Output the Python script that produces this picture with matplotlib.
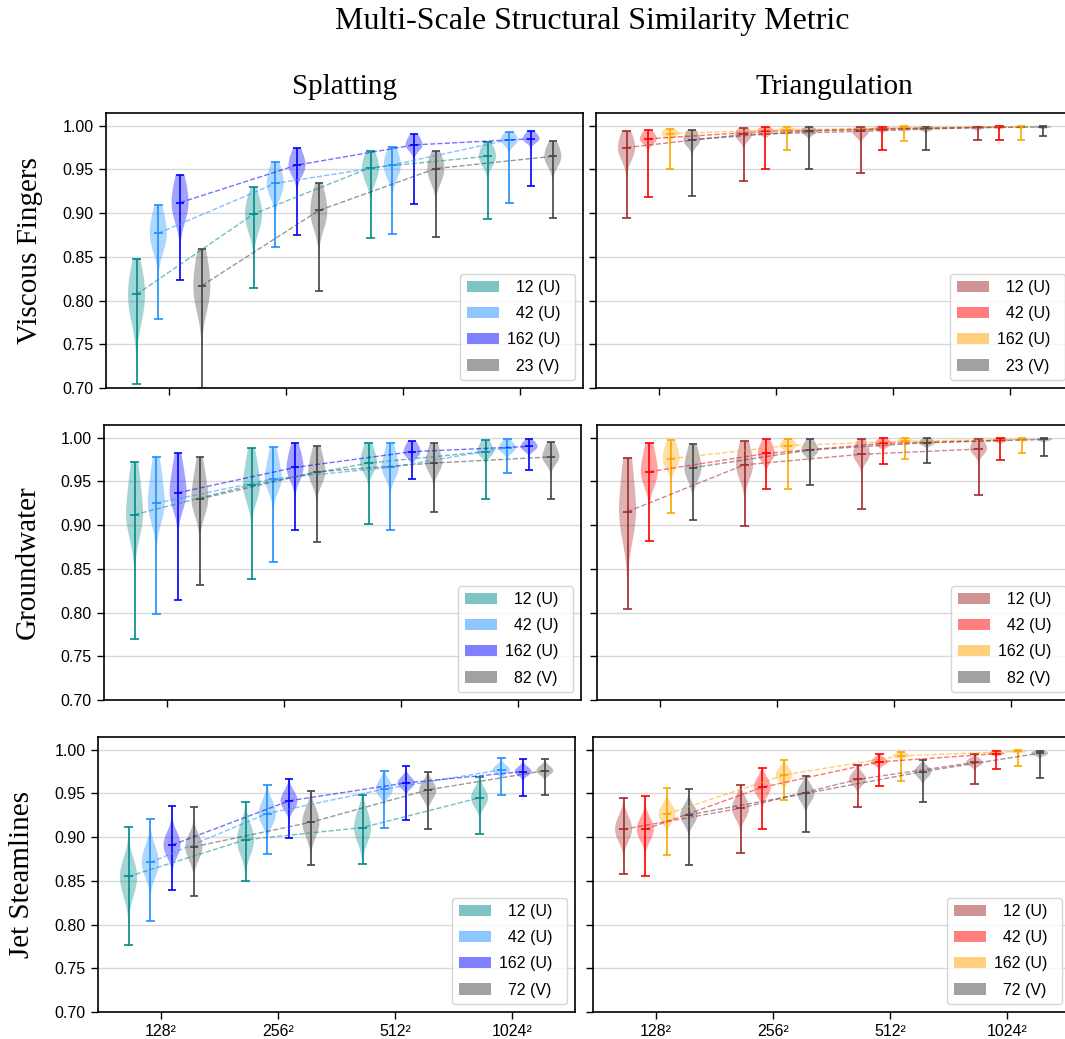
import numpy as np
import matplotlib
matplotlib.use("Agg")
import matplotlib.pyplot as plt
from matplotlib.patches import Patch
from matplotlib import cbook

plt.rcParams["font.family"] = ["Liberation Sans", "DejaVu Sans"]
SERIF = ["Liberation Serif", "DejaVu Serif"]

# ---------------------------------------------------------------- data
RESOLUTIONS = ["128\u00b2", "256\u00b2", "512\u00b2", "1024\u00b2"]
DATASETS = ["Viscous Fingers", "Groundwater", "Jet Steamlines"]
METHODS = ["Splatting", "Triangulation"]
UNIFORM_LABELS = ["\u200712 (U)", "\u200742 (U)", "162 (U)"]
VIEW_LABELS = ["\u200723 (V)", "\u200782 (V)", "\u200772 (V)"]

# each array: rows = series (12 U, 42 U, 162 U, views), cols = resolution
# Viscous Fingers / Splatting
VF_SPLAT_MIN = [[0.705, 0.814, 0.871, 0.893], [0.779, 0.861, 0.876, 0.912],
                [0.824, 0.875, 0.910, 0.931], [0.700, 0.811, 0.873, 0.894]]
VF_SPLAT_Q1 = [[0.785, 0.885, 0.940, 0.958], [0.865, 0.925, 0.945, 0.980],
               [0.900, 0.948, 0.975, 0.983], [0.800, 0.890, 0.940, 0.958]]
VF_SPLAT_MED = [[0.807, 0.899, 0.952, 0.965], [0.877, 0.934, 0.955, 0.984],
                [0.912, 0.955, 0.978, 0.985], [0.817, 0.903, 0.951, 0.965]]
VF_SPLAT_Q3 = [[0.830, 0.915, 0.963, 0.975], [0.898, 0.950, 0.968, 0.990],
               [0.935, 0.968, 0.987, 0.991], [0.845, 0.922, 0.963, 0.976]]
VF_SPLAT_MAX = [[0.848, 0.930, 0.971, 0.981], [0.909, 0.959, 0.976, 0.993],
                [0.944, 0.975, 0.990, 0.994], [0.859, 0.934, 0.971, 0.982]]

# Viscous Fingers / Triangulation
VF_TRI_MIN = [[0.894, 0.937, 0.946, 0.984], [0.919, 0.950, 0.9726, 0.984],
              [0.950, 0.972, 0.983, 0.984], [0.920, 0.950, 0.972, 0.988]]
VF_TRI_Q1 = [[0.966, 0.985, 0.989, 0.9965], [0.982, 0.991, 0.995, 0.998],
             [0.988, 0.993, 0.996, 0.998], [0.980, 0.991, 0.995, 0.998]]
VF_TRI_MED = [[0.975, 0.990, 0.9935, 0.998], [0.985, 0.9935, 0.9966, 0.9985],
              [0.991, 0.9954, 0.9973, 0.9985], [0.984, 0.994, 0.997, 0.9985]]
VF_TRI_Q3 = [[0.988, 0.995, 0.997, 0.999], [0.992, 0.997, 0.9985, 0.9992],
             [0.995, 0.9975, 0.999, 0.9992], [0.992, 0.997, 0.9985, 0.9992]]
VF_TRI_MAX = [[0.994, 0.997, 0.998, 0.999], [0.9954, 0.998, 0.999, 0.9993],
              [0.9966, 0.998, 0.9992, 0.9993], [0.995, 0.998, 0.999, 0.9993]]

# Groundwater / Splatting
GW_SPLAT_MIN = [[0.770, 0.838, 0.901, 0.930], [0.798, 0.858, 0.894, 0.960],
                [0.814, 0.894, 0.953, 0.963], [0.832, 0.881, 0.915, 0.930]]
GW_SPLAT_Q1 = [[0.905, 0.940, 0.968, 0.983], [0.920, 0.950, 0.962, 0.985],
               [0.932, 0.960, 0.981, 0.987], [0.926, 0.956, 0.968, 0.975]]
GW_SPLAT_MED = [[0.912, 0.946, 0.971, 0.984], [0.925, 0.953, 0.966, 0.9885],
                [0.937, 0.966, 0.984, 0.990], [0.930, 0.961, 0.971, 0.978]]
GW_SPLAT_Q3 = [[0.955, 0.975, 0.988, 0.994], [0.962, 0.978, 0.985, 0.994],
               [0.968, 0.985, 0.993, 0.995], [0.962, 0.982, 0.988, 0.990]]
GW_SPLAT_MAX = [[0.972, 0.988, 0.994, 0.997], [0.978, 0.989, 0.9935, 0.998],
                [0.982, 0.9935, 0.996, 0.998], [0.9775, 0.990, 0.9935, 0.995]]

# Groundwater / Triangulation
GW_TRI_MIN = [[0.804, 0.899, 0.919, 0.935], [0.882, 0.941, 0.970, 0.975],
              [0.914, 0.941, 0.9755, 0.982], [0.9056, 0.946, 0.9706, 0.979]]
GW_TRI_Q1 = [[0.905, 0.962, 0.978, 0.985], [0.955, 0.978, 0.991, 0.996],
             [0.972, 0.989, 0.995, 0.997], [0.960, 0.983, 0.993, 0.997]]
GW_TRI_MED = [[0.9155, 0.969, 0.981, 0.987], [0.961, 0.982, 0.9935, 0.997],
              [0.976, 0.991, 0.996, 0.998], [0.9656, 0.986, 0.9943, 0.998]]
GW_TRI_Q3 = [[0.965, 0.990, 0.994, 0.997], [0.985, 0.993, 0.997, 0.999],
             [0.992, 0.997, 0.9985, 0.999], [0.985, 0.994, 0.998, 0.999]]
GW_TRI_MAX = [[0.977, 0.996, 0.998, 0.999], [0.994, 0.998, 0.9995, 0.9995],
              [0.997, 0.999, 0.9995, 0.9995], [0.993, 0.998, 0.9992, 0.9995]]

# Jet Steamlines / Splatting
JS_SPLAT_MIN = [[0.777, 0.850, 0.869, 0.903], [0.804, 0.881, 0.910, 0.948],
                [0.8395, 0.899, 0.920, 0.947], [0.833, 0.8685, 0.909, 0.9476]]
JS_SPLAT_Q1 = [[0.838, 0.885, 0.900, 0.938], [0.860, 0.918, 0.950, 0.974],
               [0.882, 0.935, 0.958, 0.972], [0.878, 0.905, 0.946, 0.973]]
JS_SPLAT_MED = [[0.855, 0.897, 0.911, 0.945], [0.871, 0.927, 0.955, 0.977],
                [0.891, 0.9415, 0.962, 0.975], [0.889, 0.917, 0.954, 0.976]]
JS_SPLAT_Q3 = [[0.868, 0.910, 0.925, 0.953], [0.885, 0.938, 0.963, 0.981],
               [0.902, 0.950, 0.967, 0.979], [0.898, 0.928, 0.960, 0.980]]
JS_SPLAT_MAX = [[0.912, 0.940, 0.948, 0.969], [0.921, 0.960, 0.976, 0.990],
                [0.936, 0.967, 0.981, 0.989], [0.934, 0.953, 0.974, 0.989]]

# Jet Steamlines / Triangulation
JS_TRI_MIN = [[0.858, 0.882, 0.934, 0.961], [0.8555, 0.909, 0.958, 0.978],
              [0.879, 0.942, 0.9645, 0.981], [0.868, 0.906, 0.9396, 0.9675]]
JS_TRI_Q1 = [[0.900, 0.925, 0.962, 0.983], [0.900, 0.950, 0.984, 0.995],
             [0.920, 0.966, 0.992, 0.997], [0.918, 0.943, 0.970, 0.994]]
JS_TRI_MED = [[0.909, 0.933, 0.966, 0.9855], [0.909, 0.957, 0.986, 0.9954],
              [0.9266, 0.971, 0.993, 0.998], [0.9255, 0.950, 0.975, 0.996]]
JS_TRI_Q3 = [[0.920, 0.942, 0.972, 0.989], [0.918, 0.965, 0.990, 0.998],
             [0.934, 0.977, 0.996, 0.999], [0.933, 0.957, 0.979, 0.998]]
JS_TRI_MAX = [[0.945, 0.960, 0.983, 0.995], [0.947, 0.979, 0.995, 0.999],
              [0.956, 0.9885, 0.997, 0.9992], [0.955, 0.970, 0.988, 0.999]]

PANELS = [
    [(VF_SPLAT_MIN, VF_SPLAT_Q1, VF_SPLAT_MED, VF_SPLAT_Q3, VF_SPLAT_MAX),
     (VF_TRI_MIN, VF_TRI_Q1, VF_TRI_MED, VF_TRI_Q3, VF_TRI_MAX)],
    [(GW_SPLAT_MIN, GW_SPLAT_Q1, GW_SPLAT_MED, GW_SPLAT_Q3, GW_SPLAT_MAX),
     (GW_TRI_MIN, GW_TRI_Q1, GW_TRI_MED, GW_TRI_Q3, GW_TRI_MAX)],
    [(JS_SPLAT_MIN, JS_SPLAT_Q1, JS_SPLAT_MED, JS_SPLAT_Q3, JS_SPLAT_MAX),
     (JS_TRI_MIN, JS_TRI_Q1, JS_TRI_MED, JS_TRI_Q3, JS_TRI_MAX)],
]

SPLAT_COLORS = ["darkcyan", "dodgerblue", "blue", "#444444"]
TRI_COLORS = ["brown", "red", "orange", "#444444"]

# ---------------------------------------------------------------- style
W, H = 1065, 1039
OFFSETS = [-0.279, -0.093, 0.093, 0.279]
VIOLIN_W = 0.145
XLIM = (-0.54, 3.54)
YLIM = (0.70, 1.0145)
UNIT_PX = 117.0
ROW_BOX = [(113, 388, 106, 596), (425, 700, 104, 597), (737, 1012, 98, 593)]


def summary_density(x, coords):
    """Smooth density built from the five summary values of a violin."""
    x = np.sort(np.asarray(x))
    h = max((x[3] - x[1]) / 2.0, 0.0012)
    w = np.array([0.04, 1.0, 1.0, 1.0, 0.04])
    return np.sum(w[:, None] * np.exp(-0.5 * ((coords[None, :] - x[:, None]) / h) ** 2), axis=0)


fig = plt.figure(figsize=(W / 100, H / 100), dpi=100)

axes_width = (XLIM[1] - XLIM[0]) * UNIT_PX
for r, (top, bot, xl, xr) in enumerate(ROW_BOX):
    for c in range(2):
        left = xl if c == 0 else xr
        ax = fig.add_axes([left / W, 1 - bot / H, axes_width / W, (bot - top) / H])
        lo, q1, med, q3, hi = [np.asarray(a) for a in PANELS[r][c]]
        colors = SPLAT_COLORS if c == 0 else TRI_COLORS
        labels = UNIFORM_LABELS + [VIEW_LABELS[r]]
        for s in range(4):
            pos = np.arange(4) + OFFSETS[s]
            samples = [np.array([lo[s, k], q1[s, k], med[s, k], q3[s, k], hi[s, k]]) for k in range(4)]
            stats = cbook.violin_stats(samples, summary_density, points=200)
            parts = ax.violin(stats, positions=pos, widths=VIOLIN_W,
                              showmeans=False, showextrema=True, showmedians=True)
            for b in parts["bodies"]:
                b.set_facecolor(colors[s])
                b.set_edgecolor("none")
                b.set_alpha(0.36)
            for key in ("cmins", "cmaxes", "cbars", "cmedians"):
                parts[key].set_color(colors[s])
                parts[key].set_linewidth(1.2)
            ax.plot(pos, med[s], ls="--", color=colors[s], alpha=0.55, lw=1.0, zorder=3)

        ax.set_xlim(*XLIM)
        ax.set_ylim(*YLIM)
        ax.set_yticks(np.arange(0.70, 1.001, 0.05))
        ax.set_xticks(np.arange(4))
        ax.grid(axis="y", color="#d9d9d9", lw=1.0)
        ax.set_axisbelow(True)
        ax.tick_params(labelsize=11.5, length=5, width=1.0, pad=4)
        for sp in ax.spines.values():
            sp.set_linewidth(1.2)
        if c == 0:
            ax.set_yticklabels([f"{v:.2f}" for v in np.arange(0.70, 1.001, 0.05)])
            ax.set_ylabel(DATASETS[r], family=SERIF, fontsize=21, labelpad=14)
        else:
            ax.set_yticklabels([])
        if r == 2:
            ax.set_xticklabels(RESOLUTIONS)
        else:
            ax.set_xticklabels([])
        if r == 0:
            ax.set_title(METHODS[c], family=SERIF, fontsize=21, pad=14)

        handles = [Patch(facecolor=colors[s], alpha=0.5, edgecolor="none", label=labels[s] + "\u2007")
                   for s in range(4)]
        ax.legend(handles=handles, loc="lower right", fontsize=11.5, handlelength=2.0,
                  handletextpad=0.5, labelspacing=0.7)

fig.text(592 / W, 1 - 22 / H, "Multi-Scale Structural Similarity Metric", family=SERIF,
         fontsize=23, ha="center", va="center")
fig.savefig("out.png", dpi=100)
